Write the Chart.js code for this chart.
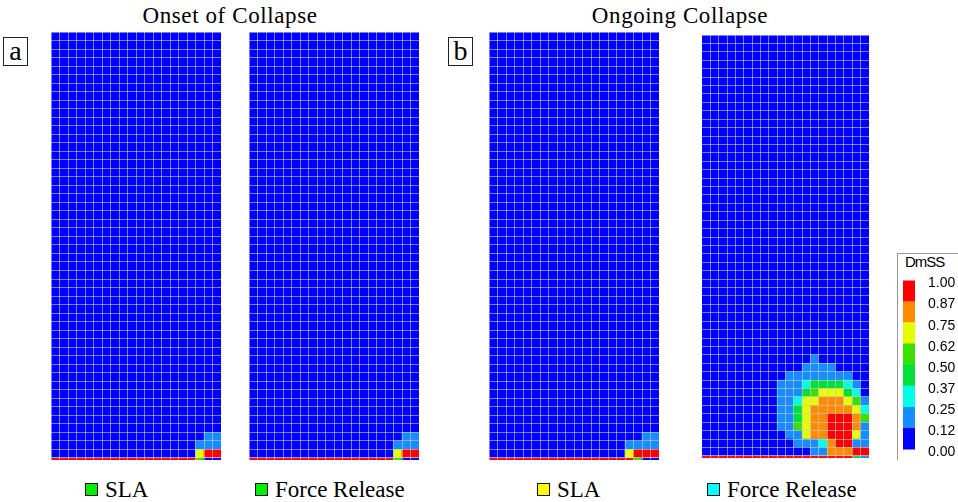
<!DOCTYPE html>
<html>
<head>
<meta charset="utf-8">
<script src="https://cdn.jsdelivr.net/npm/chart.js@4.4.1/dist/chart.umd.min.js"></script>
<style>
  html, body { margin: 0; padding: 0; background: #fff; width: 958px; height: 502px; overflow: hidden; }
  .abs { position: absolute; }
  .serif { font-family: "Liberation Serif", "DejaVu Serif", "Noto Serif", serif; color: #000; }
  .title { font-size: 23px; line-height: 23px; letter-spacing: 0.6px; text-align: center; white-space: nowrap; }
  .tag { border: 1px solid #222; font-size: 28px; line-height: 26px; text-align: center; box-sizing: border-box; }
  .leg { font-size: 23px; line-height: 23px; white-space: nowrap; }
  .sw { display: inline-block; width: 11px; height: 11px; border: 1.5px solid #111; margin-right: 7px; vertical-align: 1px; }
  .cbbox { border-left: 1px solid #999; border-top: 1px solid #999; }
  .cbtitle { font-family: "Liberation Sans", Arial, sans-serif; font-size: 15px; letter-spacing: -1px; color: #000; }
</style>
</head>
<body>

<div class="abs serif title" style="left:130px; top:4px; width:200px;">Onset of Collapse</div>
<div class="abs serif title" style="left:580px; top:4px; width:200px;">Ongoing Collapse</div>

<div class="abs serif tag" style="left:3px; top:37px; width:25px; height:29px;">a</div>
<div class="abs serif tag" style="left:448px; top:37px; width:25px; height:29px;">b</div>

<canvas id="p1" class="abs" width="170" height="428" style="left:51px; top:32px;"></canvas>
<canvas id="p2" class="abs" width="170" height="428" style="left:249px; top:32px;"></canvas>
<canvas id="p3" class="abs" width="170" height="428" style="left:489px; top:32px;"></canvas>
<canvas id="p4" class="abs" width="167" height="423" style="left:702px; top:35px;"></canvas>

<div class="abs serif leg" style="left:85px; top:478px;"><span class="sw" style="background:#00ee00"></span>SLA</div>
<div class="abs serif leg" style="left:255px; top:478px;"><span class="sw" style="background:#00ee00"></span>Force Release</div>
<div class="abs serif leg" style="left:537px; top:478px;"><span class="sw" style="background:#ffff00"></span>SLA</div>
<div class="abs serif leg" style="left:707px; top:478px;"><span class="sw" style="background:#00ffff"></span>Force Release</div>

<div class="abs cbbox" style="left:897px; top:253px; width:70px; height:206px;"></div>
<div class="abs cbtitle" style="left:905px; top:253px;">DmSS</div>
<canvas id="cbar" class="abs" width="55" height="212" style="left:903px; top:259px;"></canvas>

<script>
// mesh size: 20 columns x 50 rows per panel, plus a thin boundary strip under row 0
const NCOLS = 20;
const NROWS = 50;
const STRIP = 0.25;

// colour bands of the DmSS colour bar
const bandEdges = [0, 0.125, 0.25, 0.375, 0.5, 0.625, 0.75, 0.875, 1];
const bandColors = ['#0000ff', '#158cff', '#00ffe6', '#00e03c', '#3ce000', '#e6ff00', '#ff8c00', '#ff0000'];
const colorbarLabels = ['0.00', '0.12', '0.25', '0.37', '0.50', '0.62', '0.75', '0.87', '1.00'];

// damage per cell, bottom row first (rows not listed are undamaged)
const onsetSlaRows = [
  [0,0,0,0,0,0,0,0,0,0,0,0,0,0,0,0,0,0.65,1,1],
  [0,0,0,0,0,0,0,0,0,0,0,0,0,0,0,0,0,0.2,0.2,0.2],
  [0,0,0,0,0,0,0,0,0,0,0,0,0,0,0,0,0,0,0.2,0.2]
];
const onsetSlaStrip = [1,1,1,1,1,1,1,1,1,1,1,1,1,1,1,1,1,0.5,0,0];

const onsetForceRows = [
  [0,0,0,0,0,0,0,0,0,0,0,0,0,0,0,0,0,0.65,1,1],
  [0,0,0,0,0,0,0,0,0,0,0,0,0,0,0,0,0,0.2,0.2,0.2],
  [0,0,0,0,0,0,0,0,0,0,0,0,0,0,0,0,0,0,0.2,0.2]
];
const onsetForceStrip = [1,1,1,1,1,1,1,1,1,1,1,1,1,1,1,1,1,0.5,0,0];

const ongoingSlaRows = [
  [0,0,0,0,0,0,0,0,0,0,0,0,0,0,0,0,0.65,1,1,1],
  [0,0,0,0,0,0,0,0,0,0,0,0,0,0,0,0.1,0.2,0.2,0.2,0.2],
  [0,0,0,0,0,0,0,0,0,0,0,0,0,0,0,0,0,0,0.2,0.2]
];
const ongoingSlaStrip = [1,1,1,1,1,1,1,1,1,1,1,1,1,1,1,1,1,0.6,0,0];

const ongoingForceRows = [
  [0,0,0,0,0,0,0,0,0,0,0,0,0,0.15,0.2,0.8,0.8,0.8,0.95,0.95],
  [0,0,0,0,0,0,0,0,0,0,0,0.15,0.2,0.2,0.3,0.8,0.95,0.95,0.2,0.2],
  [0,0,0,0,0,0,0,0,0,0,0.2,0.2,0.65,0.8,0.8,0.95,0.95,0.95,0.65,0.2],
  [0,0,0,0,0,0,0,0,0,0.15,0.2,0.5,0.65,0.8,0.8,0.95,0.95,0.95,0.8,0.2],
  [0,0,0,0,0,0,0,0,0,0.2,0.2,0.45,0.65,0.8,0.8,0.95,0.95,0.95,0.8,0.55],
  [0,0,0,0,0,0,0,0,0,0.2,0.2,0.45,0.65,0.8,0.8,0.8,0.8,0.8,0.65,0.3],
  [0,0,0,0,0,0,0,0,0,0.2,0.2,0.35,0.65,0.7,0.8,0.8,0.8,0.7,0.5,0.2],
  [0,0,0,0,0,0,0,0,0,0.2,0.2,0.2,0.45,0.55,0.65,0.65,0.65,0.45,0.3,0],
  [0,0,0,0,0,0,0,0,0,0.15,0.2,0.2,0.3,0.45,0.45,0.45,0.45,0.3,0.15,0],
  [0,0,0,0,0,0,0,0,0,0,0.2,0.2,0.2,0.2,0.2,0.2,0.2,0.15,0,0],
  [0,0,0,0,0,0,0,0,0,0,0,0.1,0.2,0.2,0.2,0.15,0,0,0,0],
  [0,0,0,0,0,0,0,0,0,0,0,0,0,0.2,0,0,0,0,0,0]
];
const ongoingForceStrip = [1,1,1,1,1,1,1,1,1,1,1,1,1,1,1,1,1,1,0.45,0.15];

function bandColor(v) {
  for (let i = bandColors.length - 1; i >= 0; i--) {
    if (v >= bandEdges[i]) return bandColors[i];
  }
  return bandColors[0];
}

const colLabels = Array.from({ length: NCOLS }, (_, i) => String(i));
const rowEdges = Array.from({ length: NROWS + 1 }, (_, i) => i);
const emptyRow = colLabels.map(() => 0);
const gridColor = 'rgba(200,200,212,0.62)';

// 1. One stacked bar per mesh column, one segment per mesh row
function makePanel(id, rows, strip) {
  const datasets = [{
    data: colLabels.map(() => -STRIP),
    backgroundColor: strip.map(bandColor)
  }];
  for (let r = 0; r < NROWS; r++) {
    const vals = rows[r] || emptyRow;
    datasets.push({
      data: colLabels.map(() => 1),
      backgroundColor: vals.map(bandColor)
    });
  }

  new Chart(document.getElementById(id), {
    type: 'bar',
    data: { labels: colLabels, datasets: datasets },
    options: {
      responsive: false,
      animation: false,
      events: [],
      layout: { padding: 0 },
      datasets: { bar: { barPercentage: 1, categoryPercentage: 1, borderWidth: 0, stack: 'mesh' } },
      scales: {
        x: {
          stacked: true,
          ticks: { display: false },
          border: { display: false },
          grid: { offset: true, color: gridColor, lineWidth: 1, z: 1, drawTicks: false }
        },
        y: {
          stacked: true,
          min: -STRIP,
          max: NROWS,
          afterBuildTicks: (scale) => { scale.ticks = rowEdges.map(v => ({ value: v })); },
          ticks: { display: false },
          border: { display: false },
          grid: { color: gridColor, lineWidth: 1, z: 1, drawTicks: false }
        }
      },
      plugins: { legend: { display: false }, tooltip: { enabled: false } }
    }
  });
}

makePanel('p1', onsetSlaRows, onsetSlaStrip);
makePanel('p2', onsetForceRows, onsetForceStrip);
makePanel('p3', ongoingSlaRows, ongoingSlaStrip);
makePanel('p4', ongoingForceRows, ongoingForceStrip);

// 2. Colour bar
new Chart(document.getElementById('cbar'), {
  type: 'bar',
  data: {
    labels: ['DmSS'],
    datasets: bandColors.map((c, i) => ({
      data: [bandEdges[i + 1] - bandEdges[i]],
      backgroundColor: c
    }))
  },
  options: {
    responsive: false,
    animation: false,
    events: [],
    layout: { padding: 0 },
    datasets: { bar: { barPercentage: 1, categoryPercentage: 1, borderWidth: 0 } },
    scales: {
      x: { stacked: true, display: false },
      y: {
        stacked: true,
        position: 'right',
        min: 0,
        max: 1,
        afterBuildTicks: (scale) => { scale.ticks = bandEdges.map(v => ({ value: v })); },
        afterFit: (scale) => { scale.width = 43; },
        ticks: {
          padding: 13,
          labelOffset: 3,
          color: '#000',
          font: { family: "'Liberation Sans', Arial, sans-serif", size: 14 },
          callback: (v, i) => colorbarLabels[i]
        },
        border: { display: false },
        grid: { display: false, drawTicks: false }
      }
    },
    plugins: { legend: { display: false }, tooltip: { enabled: false } }
  }
});
</script>
</body>
</html>
